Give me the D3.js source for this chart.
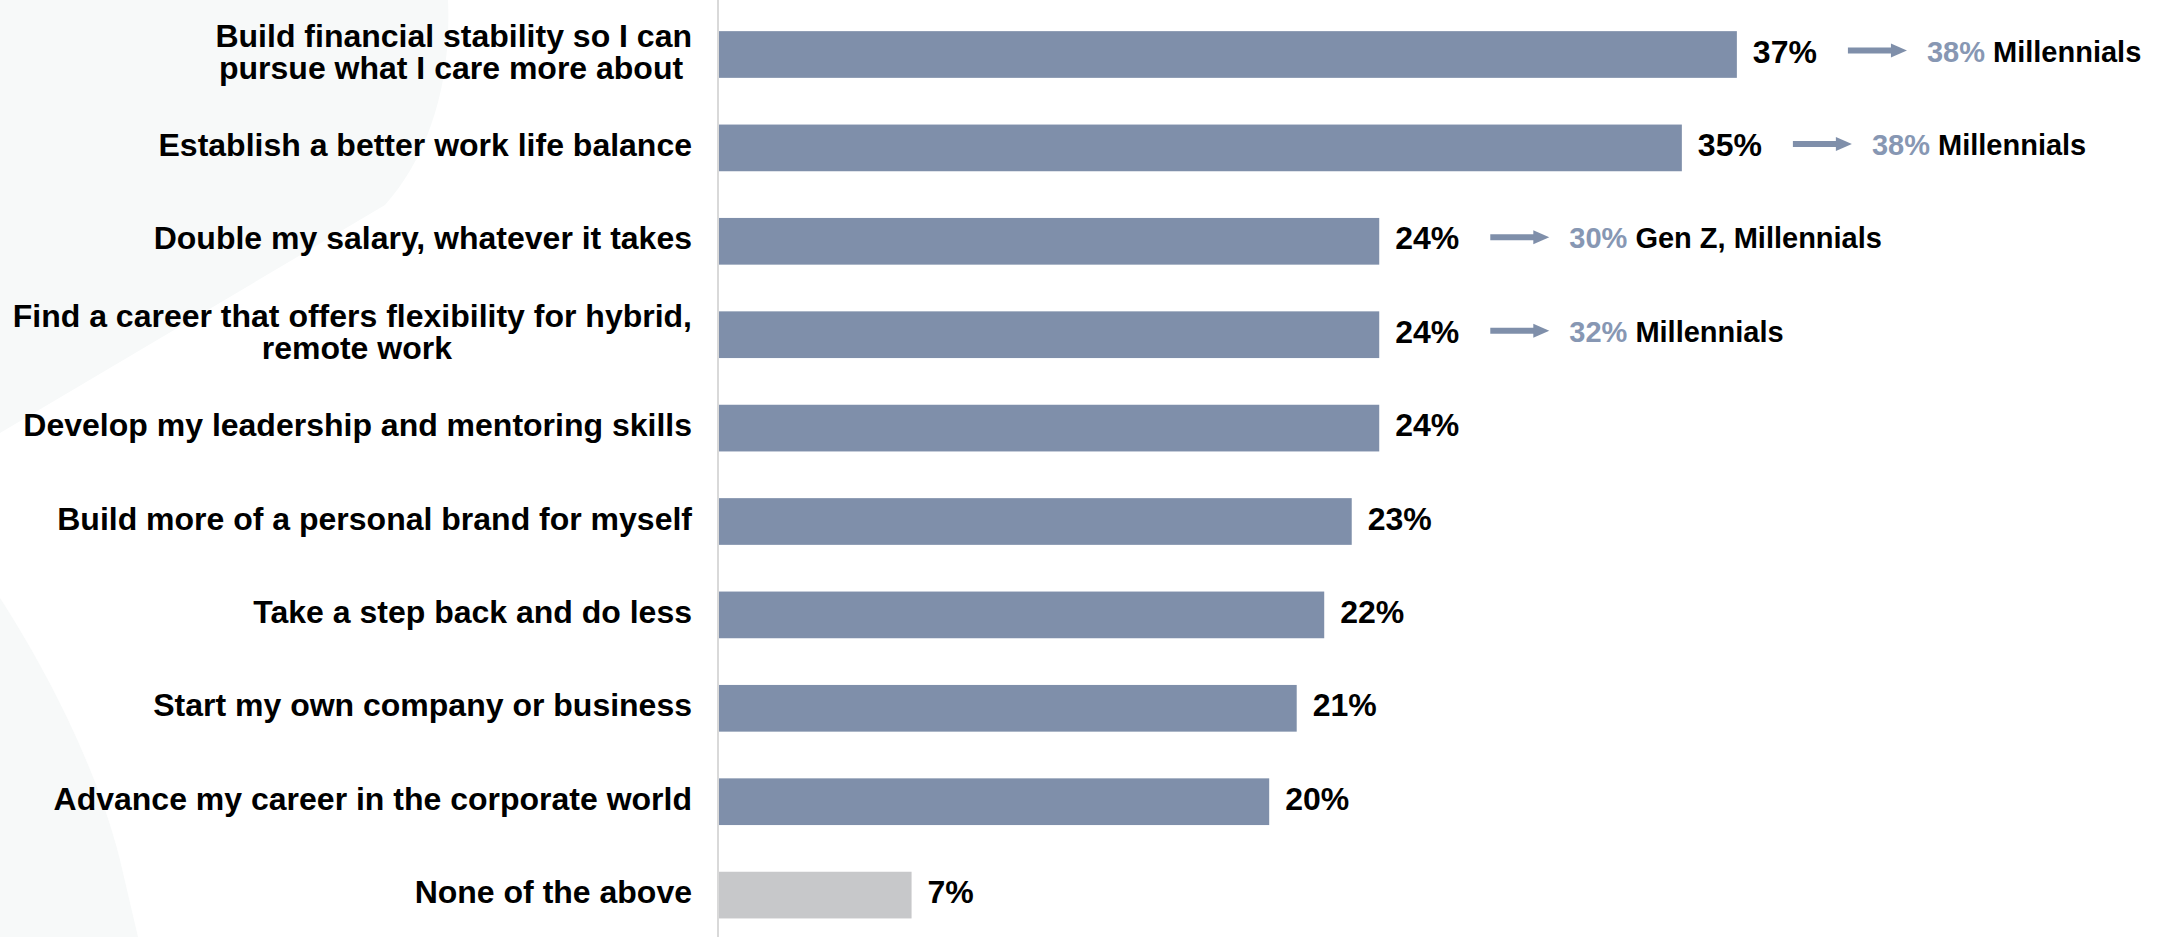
<!DOCTYPE html>
<html>
<head>
  <meta charset="utf-8">
  <style>
    body { margin: 0; background: #fff; }
    text { font-family: "Liberation Sans", Arial, sans-serif; font-weight: bold; }
  </style>
</head>
<body>
  <svg id="viz"></svg>
  <script src="https://d3js.org/d3.v7.min.js"></script>
  <script>
    var width = 2172, height = 937;

    // chart data
    var categories = [
      ["Build financial stability so I can", "pursue what I care more about\u00a0"],
      ["Establish a better work life balance"],
      ["Double my salary, whatever it takes"],
      ["Find a career that offers flexibility for hybrid,", "remote work" + "\u00a0".repeat(27)],
      ["Develop my leadership and mentoring skills"],
      ["Build more of a personal brand for myself"],
      ["Take a step back and do less"],
      ["Start my own company or business"],
      ["Advance my career in the corporate world"],
      ["None of the above"]
    ];
    var values = [37, 35, 24, 24, 24, 23, 22, 21, 20, 7];
    var valueLabels = ["37%", "35%", "24%", "24%", "24%", "23%", "22%", "21%", "20%", "7%"];
    var calloutValues = ["38%", "38%", "30%", "32%", null, null, null, null, null, null];
    var calloutGroups = ["Millennials", "Millennials", "Gen Z, Millennials", "Millennials", null, null, null, null, null, null];

    var barColor = "#7f8faa", noneColor = "#c7c8ca", calloutColor = "#8797b3";

    var svg = d3.select("#viz").attr("width", width).attr("height", height);

    // faint background shapes on the left
    svg.append("path")
      .attr("d", "M0,0 L448,0 C452,90 425,160 385,205 L0,433 Z")
      .attr("fill", "#f7f9f9");
    svg.append("path")
      .attr("d", "M0,598 C40,660 95,760 120,860 L138,937 L0,937 Z")
      .attr("fill", "#f7f9f9");

    var x = d3.scaleLinear().domain([0, 40]).range([719, 719 + 40 * 27.51]);
    var y = d3.scaleBand().domain(d3.range(categories.length))
      .range([7.8, 941.8]).paddingInner(0.5).paddingOuter(0.25);

    // axis line
    svg.append("line")
      .attr("x1", x(0) - 1).attr("x2", x(0) - 1)
      .attr("y1", 0).attr("y2", height)
      .attr("stroke", "#d9d9d9").attr("stroke-width", 2);

    var rows = svg.append("g").selectAll("g")
      .data(values)
      .enter()
      .append("g")
      .attr("transform", function(d, i) {
        return "translate(0," + (y(i) + y.bandwidth() / 2) + ")";
      });

    rows.append("rect")
      .attr("x", x(0))
      .attr("y", -y.bandwidth() / 2)
      .attr("width", function(d) { return x(d) - x(0); })
      .attr("height", y.bandwidth())
      .attr("fill", function(d, i) { return i == values.length - 1 ? noneColor : barColor; });

    // category labels
    rows.append("text")
      .attr("text-anchor", "end")
      .attr("font-size", 32)
      .attr("fill", "#000")
      .style("white-space", "pre")
      .each(function(d, i) {
        var lines = categories[i];
        var t = d3.select(this);
        lines.forEach(function(line, j) {
          t.append("tspan")
            .attr("x", 692)
            .attr("y", 8 + (j - (lines.length - 1) / 2) * 32)
            .text(line);
        });
      });

    // value labels
    var valText = rows.append("text")
      .attr("x", function(d) { return x(d) + 16; })
      .attr("y", 8)
      .attr("font-size", 32)
      .attr("fill", "#000")
      .text(function(d, i) { return valueLabels[i]; });

    // callouts: arrow + generation percentage
    rows.each(function(d, i) {
      if (!calloutValues[i]) return;
      var g = d3.select(this);
      var tx = x(d) + 16 + valText.nodes()[i].getComputedTextLength() + 31;
      var len = 59;
      g.append("line")
        .attr("x1", tx).attr("x2", tx + len - 14)
        .attr("y1", -4).attr("y2", -4)
        .attr("stroke", barColor).attr("stroke-width", 6);
      g.append("path")
        .attr("d", "M" + (tx + len - 16) + ",-11 L" + (tx + len) + ",-4 L" + (tx + len - 16) + ",3 Z")
        .attr("fill", barColor);
      var t = g.append("text")
        .attr("x", tx + len + 20)
        .attr("y", 7)
        .attr("font-size", 29);
      t.append("tspan").attr("fill", calloutColor).text(calloutValues[i]);
      t.append("tspan").attr("fill", "#000").text(" " + calloutGroups[i]);
    });
  </script>
</body>
</html>
